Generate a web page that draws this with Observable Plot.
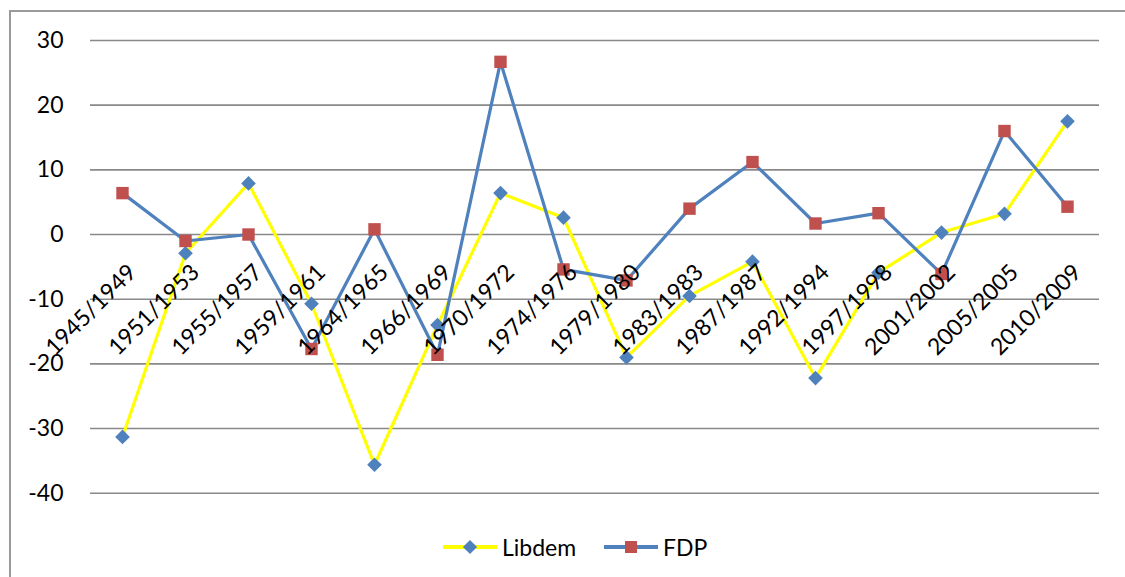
<!DOCTYPE html>
<html>
<head>
<meta charset="utf-8">
<script src="https://cdn.jsdelivr.net/npm/d3@7"></script>
<script src="https://cdn.jsdelivr.net/npm/@observablehq/plot@0.6"></script>
<style>
  html, body { margin: 0; padding: 0; background: #fff; }
  #wrap { position: relative; width: 1125px; height: 577px; overflow: hidden; font-family: Lato, "Open Sans", sans-serif; }
  #frame { position: absolute; left: 9px; top: 10px; width: 1300px; height: 800px; border: 2px solid #9a9a9a; box-sizing: border-box; }
  #chart { position: absolute; left: 0; top: 0; }
  #legend { position: absolute; top: 532px; left: 0; height: 30px; font-size: 23px; color: #000; }
  .item { position: absolute; top: 0; height: 30px; white-space: nowrap; }
  .swline { position: absolute; top: 13px; height: 4px; width: 54px; }
  .swmark { position: absolute; }
  .lbl { position: absolute; top: 0; line-height: 30px; }
</style>
</head>
<body>
<div id="wrap">
  <div id="frame"></div>
  <div id="chart"></div>
  <div id="legend"></div>
</div>
<script>
const categories = ["1945/1949", "1951/1953", "1955/1957", "1959/1961", "1964/1965", "1966/1969", "1970/1972", "1974/1976", "1979/1980", "1983/1983", "1987/1987", "1992/1994", "1997/1998", "2001/2002", "2005/2005", "2010/2009"];
const libdem = [-31.3, -2.9, 7.9, -10.7, -35.6, -14.0, 6.4, 2.6, -19.0, -9.5, -4.2, -22.2, -5.9, 0.3, 3.2, 17.5];
const fdp = [6.4, -1.0, 0.0, -17.7, 0.8, -18.6, 26.7, -5.4, -7.1, 4.0, 11.2, 1.7, 3.3, -6.1, 16.0, 4.3];
const yTicks = [-40, -30, -20, -10, 0, 10, 20, 30];
const seriesNames = ["Libdem", "FDP"];

const colLibLine = "#FFFF00";
const colLibMark = "#4F81BD";
const colFdpLine = "#4F81BD";
const colFdpMark = "#C0504D";

const libData = categories.map((c, i) => ({cat: c, v: libdem[i]}));
const fdpData = categories.map((c, i) => ({cat: c, v: fdp[i]}));

const chart = Plot.plot({
  width: 1125,
  height: 520,
  marginLeft: 90,
  marginRight: 26,
  marginTop: 40,
  marginBottom: 27.3,
  style: {fontFamily: "Lato, 'Open Sans', sans-serif", fontSize: "23px", color: "#000", background: "transparent", overflow: "visible"},
  x: {type: "point", domain: categories, padding: 0.5, axis: null},
  y: {domain: [-40, 30], axis: null},
  marks: [
    Plot.gridY(yTicks, {stroke: "#898989", strokeOpacity: 1, strokeWidth: 1.6}),
    Plot.axisY(yTicks, {tickSize: 0, tickPadding: 27, fontSize: 23, tickFormat: d => String(d), label: null, fill: "#000"}),
    Plot.line(libData, {x: "cat", y: "v", stroke: colLibLine, strokeWidth: 3.2}),
    Plot.dot(libData, {x: "cat", y: "v", symbol: "diamond2", r: 6.6, fill: colLibMark, stroke: "none"}),
    Plot.line(fdpData, {x: "cat", y: "v", stroke: colFdpLine, strokeWidth: 3.2}),
    Plot.dot(fdpData, {x: "cat", y: "v", symbol: "square", r: 7.0, fill: colFdpMark, stroke: "none"}),
    Plot.text(categories, {x: d => d, y: () => 0, text: d => d, rotate: -45, textAnchor: "end", lineAnchor: "middle", dx: 10, dy: 34, fontSize: 23, fill: "#000"})
  ]
});
document.getElementById("chart").appendChild(chart);

// Legend
const legend = document.getElementById("legend");
const items = [
  {name: seriesNames[0], line: colLibLine, mark: colLibMark, shape: "diamond", left: 443},
  {name: seriesNames[1], line: colFdpLine, mark: colFdpMark, shape: "square", left: 604}
];
for (const it of items) {
  const d = document.createElement("div");
  d.className = "item";
  d.style.left = it.left + "px";
  const ln = document.createElement("div");
  ln.className = "swline";
  ln.style.left = "0px";
  ln.style.background = it.line;
  d.appendChild(ln);
  const mk = document.createElement("div");
  mk.className = "swmark";
  mk.style.background = it.mark;
  if (it.shape === "diamond") {
    mk.style.width = "10px"; mk.style.height = "10px";
    mk.style.left = "22px"; mk.style.top = "10px";
    mk.style.transform = "rotate(45deg)";
  } else {
    mk.style.width = "12px"; mk.style.height = "12px";
    mk.style.left = "21px"; mk.style.top = "9px";
  }
  d.appendChild(mk);
  const lb = document.createElement("span");
  lb.className = "lbl";
  lb.style.left = "59px";
  lb.textContent = it.name;
  d.appendChild(lb);
  legend.appendChild(d);
}
</script>
</body>
</html>
